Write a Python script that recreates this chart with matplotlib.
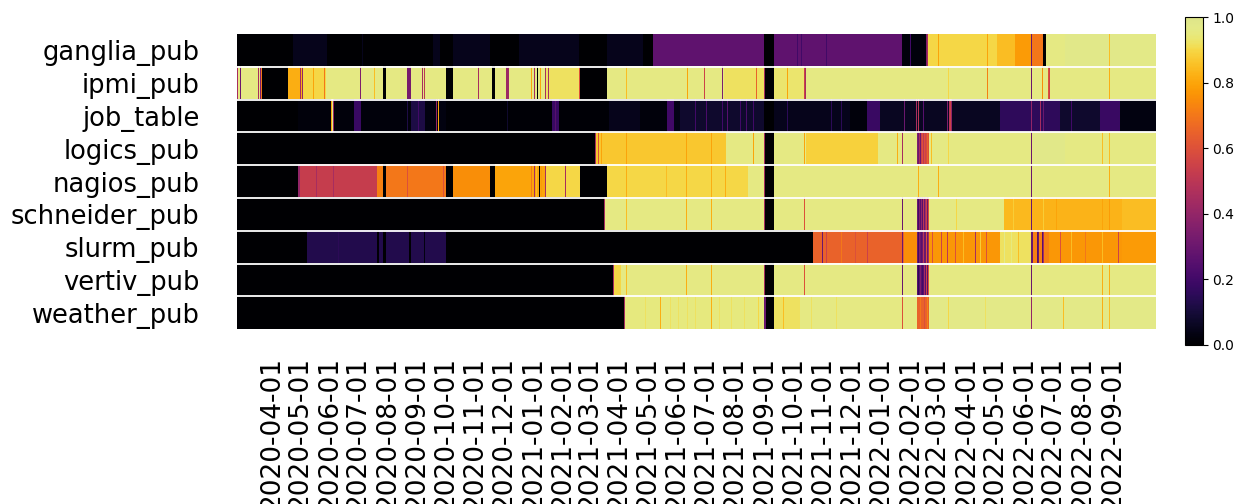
import numpy as np
import pandas as pd
import matplotlib
matplotlib.use("Agg")
import matplotlib.pyplot as plt
from matplotlib.colors import ListedColormap, to_rgb

start_date = "2020-02-25"
end_date = "2022-10-16"

topics = ["ganglia_pub", "ipmi_pub", "job_table", "logics_pub", "nagios_pub",
          "schneider_pub", "slurm_pub", "vertiv_pub", "weather_pub"]

# (date from which the value holds, value)
ganglia_breaks = [
    ("2020-02-25", 0.0), ("2020-04-24", 0.05), ("2020-05-29", 0.0),
    ("2020-09-18", 0.05), ("2020-09-25", 0.0), ("2020-10-09", 0.05),
    ("2020-11-17", 0.0), ("2020-12-17", 0.05), ("2021-02-18", 0.0),
    ("2021-03-19", 0.05), ("2021-04-26", 0.0), ("2021-05-07", 0.27),
    ("2021-08-31", 0.0), ("2021-09-11", 0.27), ("2022-01-23", 0.02),
    ("2022-02-20", 0.9), ("2022-05-03", 0.85), ("2022-05-22", 0.78),
    ("2022-06-09", 0.7), ("2022-06-20", 0.0), ("2022-06-24", 0.96),
    ("2022-07-13", 0.98), ("2022-09-09", 0.97),
]
ganglia_spikes = [
    ("2020-07-05", 0.05), ("2021-10-05", 0.2), ("2021-10-09", 0.2),
    ("2021-11-05", 0.2), ("2022-01-27", 0.25), ("2022-02-01", 0.2),
    ("2022-02-17", 0.3), ("2022-02-18", 0.35), ("2022-02-19", 0.45),
    ("2022-03-02", 0.8), ("2022-03-10", 0.88), ("2022-04-23", 0.8),
    ("2022-06-08", 0.3), ("2022-08-29", 0.85),
]

ipmi_breaks = [
    ("2020-02-25", 0.96), ("2020-03-22", 0.0), ("2020-04-19", 0.82),
    ("2020-05-04", 0.9), ("2020-05-28", 0.96), ("2020-07-27", 0.0),
    ("2020-07-30", 0.96), ("2020-08-22", 0.33), ("2020-08-26", 0.96),
    ("2020-10-01", 0.0), ("2020-10-09", 0.96), ("2020-11-19", 0.0),
    ("2020-11-22", 0.96), ("2020-12-03", 0.42), ("2020-12-07", 0.96),
    ("2021-01-14", 0.92), ("2021-02-19", 0.0), ("2021-03-20", 0.96),
    ("2021-07-20", 0.92), ("2021-09-01", 0.0), ("2021-09-11", 0.93),
    ("2021-10-14", 0.96),
]
ipmi_spikes = [
    ("2020-02-25", 0.45), ("2020-02-28", 0.3), ("2020-03-18", 0.45),
    ("2020-03-20", 0.35), ("2020-03-21", 0.7), ("2020-05-01", 0.45),
    ("2020-05-03", 0.4), ("2020-05-15", 0.8), ("2020-05-26", 0.7),
    ("2020-07-03", 0.35), ("2020-07-18", 0.85), ("2020-09-06", 0.45),
    ("2020-09-08", 0.5), ("2020-11-04", 0.45), ("2020-12-30", 0.8),
    ("2021-01-02", 0.45), ("2021-01-05", 0.0), ("2021-01-08", 0.8),
    ("2021-01-13", 0.45), ("2021-01-17", 0.45), ("2021-02-18", 0.6),
    ("2021-03-19", 0.5), ("2021-04-08", 0.85), ("2021-06-12", 0.8),
    ("2021-06-29", 0.55), ("2021-07-18", 0.35), ("2021-08-23", 0.65),
    ("2021-08-31", 0.45), ("2021-09-25", 0.8), ("2021-10-12", 0.55),
    ("2021-10-13", 0.45), ("2022-03-13", 0.9), ("2022-04-23", 0.72),
    ("2022-06-08", 0.3), ("2022-06-19", 0.75), ("2022-06-26", 0.6),
    ("2022-06-27", 0.55), ("2022-08-29", 0.82),
]

job_breaks = [
    ("2020-02-25", 0.0), ("2020-04-29", 0.02), ("2020-06-27", 0.18),
    ("2020-07-04", 0.02), ("2020-08-26", 0.12), ("2020-09-09", 0.03),
    ("2020-10-01", 0.01), ("2021-01-21", 0.18), ("2021-01-28", 0.01),
    ("2021-03-22", 0.05), ("2021-04-23", 0.02), ("2021-05-22", 0.2),
    ("2021-05-29", 0.04), ("2021-06-04", 0.08), ("2021-08-31", 0.0),
    ("2021-09-11", 0.05), ("2021-11-30", 0.02), ("2021-12-18", 0.18),
    ("2021-12-31", 0.06), ("2022-05-06", 0.16), ("2022-07-08", 0.08),
    ("2022-08-19", 0.18), ("2022-09-09", 0.03),
]
job_spikes = [
    ("2020-06-03", 0.8), ("2020-06-04", 0.97), ("2020-06-05", 0.4),
    ("2020-07-10", 0.15), ("2020-08-22", 0.12), ("2020-09-02", 0.2),
    ("2020-09-21", 0.4), ("2020-09-23", 0.8), ("2020-12-05", 0.08),
    ("2021-01-24", 0.25), ("2021-06-20", 0.2), ("2021-07-02", 0.22),
    ("2021-07-18", 0.2), ("2021-07-24", 0.25), ("2021-08-06", 0.2),
    ("2021-08-13", 0.22), ("2021-08-20", 0.2), ("2021-09-25", 0.15),
    ("2021-10-14", 0.15), ("2021-11-10", 0.15), ("2021-11-20", 0.15),
    ("2022-01-25", 0.3), ("2022-02-07", 0.45), ("2022-02-09", 0.5),
    ("2022-02-14", 0.25), ("2022-03-12", 0.35), ("2022-03-14", 0.5),
    ("2022-03-15", 0.55), ("2022-03-16", 0.4), ("2022-06-08", 0.4),
    ("2022-06-17", 0.45), ("2022-06-20", 0.3), ("2022-07-20", 0.2),
]

logics_breaks = [
    ("2020-02-25", 0.0), ("2021-03-07", 0.45), ("2021-03-08", 0.87),
    ("2021-07-22", 0.96), ("2021-08-31", 0.45), ("2021-09-01", 0.0),
    ("2021-09-11", 0.96), ("2021-10-14", 0.89), ("2021-12-29", 0.96),
    ("2022-02-08", 0.35), ("2022-02-21", 0.96), ("2022-06-10", 0.98),
    ("2022-07-13", 0.96),
]
logics_spikes = [
    ("2021-03-10", 0.6), ("2021-03-13", 0.8), ("2021-04-08", 0.8),
    ("2021-06-11", 0.8), ("2021-07-07", 0.8), ("2021-08-20", 0.8),
    ("2021-10-12", 0.8), ("2022-01-06", 0.75), ("2022-01-18", 0.82),
    ("2022-01-23", 0.45), ("2022-02-09", 0.3), ("2022-02-10", 0.45),
    ("2022-02-11", 0.3), ("2022-02-12", 0.55), ("2022-02-13", 0.6),
    ("2022-02-14", 0.5), ("2022-02-15", 0.6), ("2022-02-16", 0.55),
    ("2022-02-17", 0.62), ("2022-02-18", 0.58), ("2022-02-19", 0.65),
    ("2022-02-20", 0.6), ("2022-02-23", 0.85), ("2022-03-13", 0.9),
    ("2022-06-08", 0.3), ("2022-08-21", 0.85), ("2022-08-29", 0.85),
]

nagios_breaks = [
    ("2020-02-25", 0.0), ("2020-04-29", 0.4), ("2020-05-01", 0.53),
    ("2020-07-21", 0.72), ("2020-07-27", 0.0), ("2020-07-30", 0.7),
    ("2020-10-01", 0.0), ("2020-10-09", 0.75), ("2020-11-17", 0.0),
    ("2020-11-22", 0.8), ("2021-01-14", 0.9), ("2021-02-19", 0.0),
    ("2021-03-20", 0.9), ("2021-08-15", 0.96), ("2021-08-31", 0.45),
    ("2021-09-01", 0.0), ("2021-09-11", 0.96),
]
nagios_spikes = [
    ("2020-05-18", 0.45), ("2020-06-05", 0.45), ("2020-07-10", 0.5),
    ("2020-08-22", 0.6), ("2020-09-28", 0.6), ("2020-12-30", 0.7),
    ("2021-01-02", 0.45), ("2021-01-04", 0.85), ("2021-01-07", 0.0),
    ("2021-01-09", 0.78), ("2021-01-13", 0.45), ("2021-02-03", 0.45),
    ("2021-04-08", 0.82), ("2021-05-20", 0.85), ("2021-06-11", 0.82),
    ("2021-07-07", 0.82), ("2021-07-21", 0.82), ("2022-02-09", 0.82),
    ("2022-03-02", 0.82), ("2022-06-08", 0.3), ("2022-08-29", 0.82),
]

schneider_breaks = [
    ("2020-02-25", 0.0), ("2021-03-16", 0.45), ("2021-03-17", 0.96),
    ("2021-08-31", 0.45), ("2021-09-01", 0.0), ("2021-09-11", 0.96),
    ("2022-02-08", 0.3), ("2022-02-21", 0.96), ("2022-05-10", 0.84),
    ("2022-06-08", 0.3), ("2022-06-09", 0.83), ("2022-09-11", 0.85),
]
schneider_spikes = [
    ("2021-04-08", 0.85), ("2021-06-11", 0.82), ("2021-07-07", 0.82),
    ("2021-10-12", 0.6), ("2022-01-06", 0.78), ("2022-01-23", 0.3),
    ("2022-02-09", 0.2), ("2022-02-10", 0.35), ("2022-02-11", 0.25),
    ("2022-02-12", 0.4), ("2022-02-13", 0.25), ("2022-02-14", 0.5),
    ("2022-02-16", 0.45), ("2022-02-18", 0.55), ("2022-02-20", 0.6),
    ("2022-03-21", 0.9), ("2022-05-20", 0.88), ("2022-06-20", 0.88),
    ("2022-07-04", 0.8), ("2022-08-21", 0.8), ("2022-08-29", 0.78),
]

slurm_breaks = [
    ("2020-02-25", 0.0), ("2020-05-08", 0.13), ("2020-07-21", 0.0),
    ("2020-07-23", 0.13), ("2020-07-27", 0.0), ("2020-07-30", 0.13),
    ("2020-08-24", 0.0), ("2020-08-26", 0.13), ("2020-10-01", 0.0),
    ("2021-10-22", 0.65), ("2022-01-25", 0.75), ("2022-02-08", 0.3),
    ("2022-02-21", 0.77), ("2022-05-06", 0.92), ("2022-06-08", 0.3),
    ("2022-06-10", 0.72), ("2022-06-27", 0.77), ("2022-09-11", 0.78),
]
slurm_spikes = [
    ("2020-06-10", 0.15), ("2020-09-08", 0.03), ("2021-10-31", 0.3),
    ("2021-11-05", 0.55), ("2021-11-20", 0.7), ("2021-12-05", 0.6),
    ("2021-12-18", 0.55), ("2022-01-06", 0.7), ("2022-01-23", 0.3),
    ("2022-02-09", 0.2), ("2022-02-10", 0.35), ("2022-02-12", 0.25),
    ("2022-02-14", 0.5), ("2022-02-16", 0.3), ("2022-02-18", 0.6),
    ("2022-02-20", 0.45), ("2022-02-24", 0.6), ("2022-03-05", 0.55),
    ("2022-03-12", 0.5), ("2022-03-20", 0.6), ("2022-03-28", 0.85),
    ("2022-04-10", 0.45), ("2022-04-15", 0.88), ("2022-04-22", 0.6),
    ("2022-05-10", 0.97), ("2022-05-18", 0.95), ("2022-05-25", 0.85),
    ("2022-06-14", 0.25), ("2022-06-15", 0.3), ("2022-06-19", 0.25),
    ("2022-06-20", 0.45), ("2022-06-23", 0.3), ("2022-07-08", 0.6),
    ("2022-07-20", 0.85), ("2022-08-03", 0.7), ("2022-08-21", 0.85),
    ("2022-09-07", 0.55),
]

vertiv_breaks = [
    ("2020-02-25", 0.0), ("2021-03-26", 0.45), ("2021-03-27", 0.9),
    ("2021-04-03", 0.96), ("2021-08-31", 0.45), ("2021-09-01", 0.0),
    ("2021-09-11", 0.96), ("2022-02-08", 0.25), ("2022-02-21", 0.96),
]
vertiv_spikes = [
    ("2021-04-08", 0.85), ("2021-06-11", 0.82), ("2021-07-07", 0.82),
    ("2021-10-12", 0.6), ("2022-01-06", 0.78), ("2022-01-23", 0.3),
    ("2022-02-09", 0.15), ("2022-02-11", 0.35), ("2022-02-13", 0.2),
    ("2022-02-15", 0.45), ("2022-02-17", 0.5), ("2022-02-18", 0.55),
    ("2022-02-20", 0.6), ("2022-06-08", 0.3), ("2022-08-21", 0.82),
    ("2022-08-29", 0.82),
]

weather_breaks = [
    ("2020-02-25", 0.0), ("2021-04-06", 0.45), ("2021-04-07", 0.95),
    ("2021-08-31", 0.3), ("2021-09-02", 0.0), ("2021-09-11", 0.92),
    ("2021-10-08", 0.96), ("2022-02-08", 0.65), ("2022-02-21", 0.97),
]
weather_spikes = [
    ("2021-04-28", 0.92), ("2021-05-14", 0.82), ("2021-05-25", 0.92),
    ("2021-06-02", 0.92), ("2021-06-12", 0.92), ("2021-06-20", 0.92),
    ("2021-07-07", 0.82), ("2021-07-15", 0.92), ("2021-07-28", 0.92),
    ("2021-08-10", 0.92), ("2021-08-25", 0.9), ("2021-09-20", 0.85),
    ("2021-10-20", 0.92), ("2021-11-15", 0.92), ("2022-01-23", 0.6),
    ("2022-02-11", 0.7), ("2022-02-15", 0.6), ("2022-02-19", 0.72),
    ("2022-03-13", 0.9), ("2022-04-20", 0.92), ("2022-06-08", 0.4),
    ("2022-07-11", 0.85), ("2022-08-21", 0.82), ("2022-08-29", 0.85),
]

all_breaks = [ganglia_breaks, ipmi_breaks, job_breaks, logics_breaks, nagios_breaks,
              schneider_breaks, slurm_breaks, vertiv_breaks, weather_breaks]
all_spikes = [ganglia_spikes, ipmi_spikes, job_spikes, logics_spikes, nagios_spikes,
              schneider_spikes, slurm_spikes, vertiv_spikes, weather_spikes]

days = pd.date_range(start_date, end_date, freq="D")


def build_row(breaks, spikes):
    starts = pd.to_datetime([b[0] for b in breaks])
    vals = np.array([b[1] for b in breaks])
    row = vals[starts.searchsorted(days, side="right") - 1]
    for d, v in spikes:
        row[days.get_loc(pd.Timestamp(d))] = v
    return row


matrix = np.vstack([build_row(b, s) for b, s in zip(all_breaks, all_spikes)])

# inferno, with the top end toned down to the pale yellow-green seen in the chart
t = np.linspace(0, 1, 256)
cols = plt.get_cmap("inferno")(t)
w = np.clip((t - 0.9) / 0.1, 0, 1)[:, None]
cols[:, :3] = cols[:, :3] * (1 - w) + np.array(to_rgb("#dde487")) * w
cmap = ListedColormap(cols)

fig = plt.figure(figsize=(12.41, 5.04), dpi=100)
ax = fig.add_axes([0.191, 0.347, 0.7405, 0.5855])
im = ax.imshow(matrix, aspect="auto", cmap=cmap, vmin=0, vmax=1,
               interpolation="nearest")

for k in range(1, len(topics)):
    ax.axhline(k - 0.5, color="white", lw=1.3)

tick_dates = pd.date_range("2020-04-01", "2022-09-01", freq="MS")
ax.set_xticks(days.get_indexer(tick_dates))
ax.set_xticklabels(tick_dates.strftime("%Y-%m-%d"), rotation=90, fontsize=19)
ax.set_yticks(np.arange(len(topics)))
ax.set_yticklabels(topics, fontsize=18.5)
ax.tick_params(axis="x", length=0, pad=20)
ax.tick_params(axis="y", length=0, pad=27)
for s in ax.spines.values():
    s.set_visible(False)

cax = fig.add_axes([0.9545, 0.316, 0.0145, 0.65])
cb = fig.colorbar(im, cax=cax, ticks=[0.0, 0.2, 0.4, 0.6, 0.8, 1.0])
cb.ax.tick_params(labelsize=10)

fig.savefig("out.png", dpi=100)
